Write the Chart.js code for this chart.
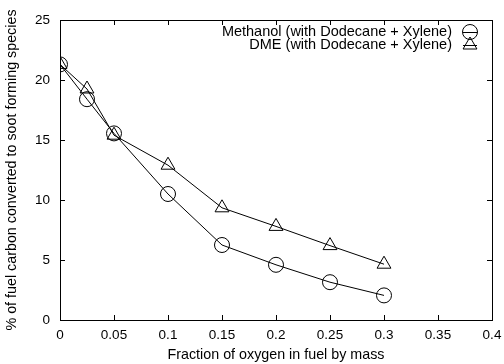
<!DOCTYPE html>
<html>
<head>
<meta charset="utf-8">
<script src="https://cdn.jsdelivr.net/npm/chart.js@4/dist/chart.umd.min.js"></script>
<style>
  html, body { margin: 0; padding: 0; background: #fff; }
  #wrap { width: 504px; height: 364px; }
</style>
</head>
<body>
<div id="wrap"><canvas id="chart" width="504" height="364"></canvas></div>
<script>
const oxygenFraction = [0, 0.025, 0.05, 0.1, 0.15, 0.2, 0.25, 0.3];
const methanolValues = [21.3, 18.4, 15.55, 10.5, 6.25, 4.6, 3.15, 2.05];
const dmeValues = [21.3, 19.25, 15.4, 12.9, 9.35, 7.8, 6.2, 4.65];
const seriesLabels = ['Methanol (with Dodecane + Xylene)', 'DME (with Dodecane + Xylene)'];
const xTicks = [0, 0.05, 0.1, 0.15, 0.2, 0.25, 0.3, 0.35, 0.4];
const yTicks = [0, 5, 10, 15, 20, 25];

const FONT = 'Liberation Sans, Arial, Helvetica, sans-serif';

function toPoints(xs, ys) {
    return xs.map((x, i) => ({x: x, y: ys[i]}));
}

// gnuplot style frame: box plus inward ticks on all four sides, and the key inside
const framePlugin = {
    id: 'frame',
    afterDatasetsDraw(chart) {
        const {ctx, chartArea: a, scales} = chart;
        ctx.save();
        ctx.strokeStyle = '#000';
        ctx.lineWidth = 1;
        ctx.strokeRect(a.left + 0.5, a.top + 0.5, a.right - a.left, a.bottom - a.top);
        const len = 5;
        ctx.beginPath();
        for (const v of xTicks) {
            const px = Math.round(scales.x.getPixelForValue(v)) + 0.5;
            ctx.moveTo(px, a.bottom); ctx.lineTo(px, a.bottom - len);
            ctx.moveTo(px, a.top); ctx.lineTo(px, a.top + len);
        }
        for (const v of yTicks) {
            const py = Math.round(scales.y.getPixelForValue(v)) + 0.5;
            ctx.moveTo(a.left, py); ctx.lineTo(a.left + len, py);
            ctx.moveTo(a.right, py); ctx.lineTo(a.right - len, py);
        }
        ctx.stroke();

        // key
        ctx.font = '14.5px ' + FONT;
        ctx.textAlign = 'right';
        ctx.textBaseline = 'middle';
        const keyX = 470, keyY = [32, 45];
        chart.data.datasets.forEach((ds, i) => {
            ctx.fillStyle = '#000';
            ctx.fillText(ds.label, keyX - 18, keyY[i]);
            ctx.beginPath();
            ctx.moveTo(keyX - 7, keyY[i] + 0.5);
            ctx.lineTo(keyX + 7, keyY[i] + 0.5);
            ctx.stroke();
            ctx.fillStyle = 'rgba(0,0,0,0)';
            Chart.helpers.drawPoint(ctx, {pointStyle: ds.pointStyle, radius: ds.pointRadius, borderWidth: 1}, keyX, keyY[i]);
        });
        ctx.restore();
    }
};

new Chart(document.getElementById('chart'), {
    type: 'line',
    data: {
        datasets: [
            {
                label: seriesLabels[0],
                data: toPoints(oxygenFraction, methanolValues),
                borderColor: '#000',
                backgroundColor: 'rgba(0,0,0,0)',
                borderWidth: 1,
                pointStyle: 'circle',
                pointRadius: 7.5,
                pointBorderWidth: 1,
                pointBorderColor: '#000',
                pointBackgroundColor: 'rgba(0,0,0,0)',
                tension: 0,
            },
            {
                label: seriesLabels[1],
                data: toPoints(oxygenFraction, dmeValues),
                borderColor: '#000',
                backgroundColor: 'rgba(0,0,0,0)',
                borderWidth: 1,
                pointStyle: 'triangle',
                pointRadius: 8,
                pointBorderWidth: 1,
                pointBorderColor: '#000',
                pointBackgroundColor: 'rgba(0,0,0,0)',
                tension: 0,
            },
        ],
    },
    options: {
        responsive: false,
        animation: false,
        layout: {padding: {top: 20, right: 0, left: 0, bottom: 0}},
        plugins: {legend: {display: false}, tooltip: {enabled: false}},
        scales: {
            x: {
                type: 'linear',
                min: 0,
                max: 0.4,
                afterBuildTicks: s => { s.ticks = xTicks.map(v => ({value: v})); },
                afterFit: s => { s.height = 44; s.paddingRight = 12; s.paddingLeft = 0; },
                grid: {display: false, drawTicks: false},
                border: {display: false},
                ticks: {color: '#000', font: {family: FONT, size: 13.5}, padding: 7, maxRotation: 0,
                        callback: v => String(v)},
                title: {display: true, text: 'Fraction of oxygen in fuel by mass', color: '#000',
                        font: {family: FONT, size: 14.3}, padding: {top: 2, bottom: 0}},
            },
            y: {
                type: 'linear',
                min: 0,
                max: 25,
                afterBuildTicks: s => { s.ticks = yTicks.map(v => ({value: v})); },
                afterFit: s => { s.width = 60; },
                grid: {display: false, drawTicks: false},
                border: {display: false},
                ticks: {color: '#000', font: {family: FONT, size: 13.5}, padding: 10},
                title: {display: true, text: '% of fuel carbon converted to soot forming species', color: '#000',
                        font: {family: FONT, size: 14.3}, padding: {top: 3, bottom: 0}},
            },
        },
    },
    plugins: [framePlugin],
});
</script>
</body>
</html>
